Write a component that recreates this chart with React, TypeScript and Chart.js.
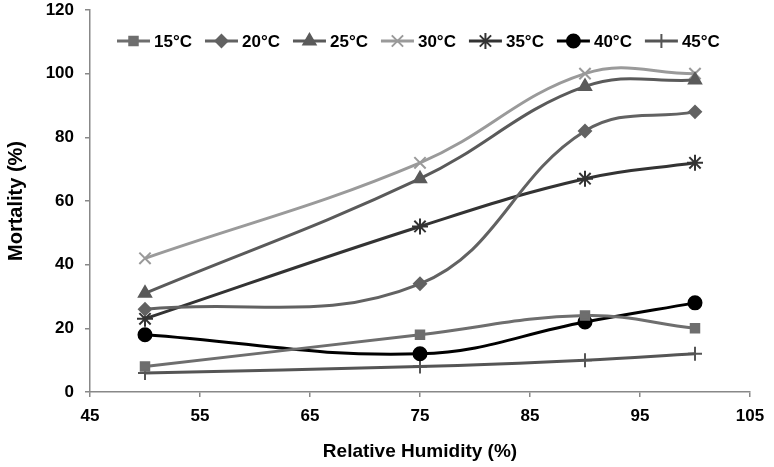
import React, { useEffect, useRef } from "react";
import { Chart, registerables, PointElement } from "chart.js";

Chart.register(...registerables);

const humidity = [50, 75, 90, 100];
const seriesNames = ["15°C", "20°C", "25°C", "30°C", "35°C", "40°C", "45°C"];
const t15 = [8, 18, 24, 20];
const t20 = [26, 34, 82, 88];
const t25 = [31, 67, 96, 98];
const t30 = [42, 72, 100, 100];
const t35 = [23, 52, 67, 72];
const t40 = [18, 12, 22, 28];
const t45 = [6, 8, 10, 12];
const seriesValues = [t15, t20, t25, t30, t35, t40, t45];
const seriesColors = ["#6e6e6e", "#626262", "#5a5a5a", "#9a9a9a", "#333333", "#000000", "#555555"];
const seriesMarkers = ["rect", "rectRot", "triangle", "crossRot", "star", "circle", "cross"];
const seriesRadius = [6, 6, 7, 8, 8, 6.5, 7];

const FONT = "'Liberation Sans', Arial, sans-serif";

const insideLegend = {
  id: "insideLegend",
  afterDraw(chart: any) {
    const ctx = chart.ctx;
    const area = chart.chartArea;
    ctx.save();
    ctx.font = `bold 17px ${FONT}`;
    const lineW = 33;
    const gap = 4;
    const itemGap = 13;
    const widths = chart.data.datasets.map((d: any) => lineW + gap + ctx.measureText(d.label).width);
    let x = area.left + 27;
    const y = area.top + 31;
    chart.data.datasets.forEach((d: any, i: number) => {
      ctx.strokeStyle = d.borderColor;
      ctx.lineWidth = 3;
      ctx.beginPath();
      ctx.moveTo(x, y);
      ctx.lineTo(x + lineW, y);
      ctx.stroke();
      const p: any = new (PointElement as any)({});
      p.x = x + lineW / 2;
      p.y = y;
      p.options = {
        pointStyle: d.pointStyle,
        radius: d.pointRadius,
        borderWidth: d.pointBorderWidth,
        rotation: 0,
        backgroundColor: d.pointBackgroundColor,
        borderColor: d.pointBorderColor,
      };
      p.draw(ctx);
      ctx.fillStyle = "#000";
      ctx.textBaseline = "middle";
      ctx.textAlign = "left";
      ctx.fillText(d.label, x + lineW + gap, y + 1);
      x += widths[i] + itemGap;
    });
    ctx.restore();
  },
};

export default function App() {
  const ref = useRef<HTMLCanvasElement>(null);
  useEffect(() => {
    document.body.style.margin = "0";
    const datasets = seriesNames.map((name, i) => ({
      label: name,
      data: humidity.map((h, j) => ({ x: h, y: seriesValues[i][j] })),
      borderColor: seriesColors[i],
      backgroundColor: seriesColors[i],
      pointBackgroundColor: seriesColors[i],
      pointBorderColor: seriesColors[i],
      pointStyle: seriesMarkers[i],
      pointRadius: seriesRadius[i],
      pointBorderWidth: 2,
      borderWidth: 3,
      tension: 0.4,
      fill: false,
    }));
    const chart = new Chart(ref.current!, {
      type: "line",
      data: { datasets },
      options: {
        animation: false,
        responsive: false,
        layout: { padding: { top: 8, right: 24, left: 0, bottom: 0 } },
        plugins: { legend: { display: false }, tooltip: { enabled: false } },
        scales: {
          x: {
            type: "linear",
            min: 45,
            max: 105,
            ticks: { stepSize: 10, color: "#000", font: { family: FONT, size: 17, weight: "bold" }, padding: 9 },
            grid: { drawOnChartArea: false, drawTicks: true, tickLength: 5, color: "#888", lineWidth: 1.5 },
            border: { color: "#888", width: 1.5 },
            title: { display: true, text: "Relative Humidity (%)", color: "#000", font: { family: FONT, size: 19, weight: "bold" }, padding: { top: 12 } },
            afterFit(scale: any) {
              scale.height = 75;
            },
          },
          y: {
            min: 0,
            max: 120,
            ticks: { stepSize: 20, color: "#000", font: { family: FONT, size: 17, weight: "bold" }, padding: 11 },
            grid: { drawOnChartArea: false, drawTicks: true, tickLength: 5, color: "#888", lineWidth: 1.5 },
            border: { color: "#888", width: 1.5 },
            title: { display: true, text: "Mortality (%)", color: "#000", font: { family: FONT, size: 20, weight: "bold" }, padding: { bottom: 4 } },
            afterFit(scale: any) {
              scale.width = 90;
              scale.paddingTop = 0;
              scale.paddingBottom = 0;
            },
          },
        },
      } as any,
      plugins: [insideLegend],
    });
    return () => chart.destroy();
  }, []);
  return (
    <div style={{ width: 774, height: 467 }}>
      <canvas ref={ref} width={774} height={467} style={{ display: "block" }} />
    </div>
  );
}
